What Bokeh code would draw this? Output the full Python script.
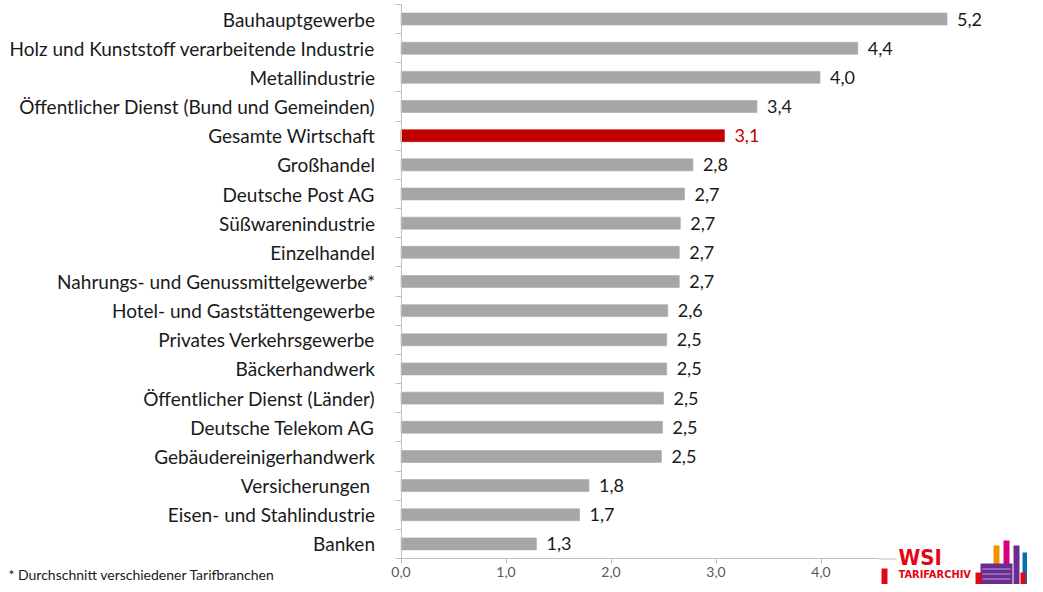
from bokeh.plotting import figure
from bokeh.models import Range1d, FixedTicker, ColumnDataSource, Label, BoxAnnotation
from bokeh.core.properties import value
from bokeh.embed import file_html
from bokeh.resources import INLINE

categories = [
    "Bauhauptgewerbe",
    "Holz und Kunststoff verarbeitende Industrie",
    "Metallindustrie",
    "Öffentlicher Dienst (Bund und Gemeinden)",
    "Gesamte Wirtschaft",
    "Großhandel",
    "Deutsche Post AG",
    "Süßwarenindustrie",
    "Einzelhandel",
    "Nahrungs- und Genussmittelgewerbe*",
    "Hotel- und Gaststättengewerbe",
    "Privates Verkehrsgewerbe",
    "Bäckerhandwerk",
    "Öffentlicher Dienst (Länder)",
    "Deutsche Telekom AG",
    "Gebäudereinigerhandwerk",
    "Versicherungen ",
    "Eisen- und Stahlindustrie",
    "Banken",
]
values = [5.20, 4.35, 3.99, 3.39, 3.08, 2.78, 2.70, 2.66, 2.65, 2.65,
          2.54, 2.53, 2.53, 2.50, 2.49, 2.48, 1.79, 1.70, 1.29]
value_labels = ["5,2", "4,4", "4,0", "3,4", "3,1", "2,8", "2,7", "2,7", "2,7", "2,7",
                "2,6", "2,5", "2,5", "2,5", "2,5", "2,5", "1,8", "1,7", "1,3"]
highlight = "Gesamte Wirtschaft"
x_ticks = [0, 1, 2, 3, 4, 5, 6]
x_tick_labels = ["0,0", "1,0", "2,0", "3,0", "4,0", "5,0", "6,0"]
footnote = "* Durchschnitt verschiedener Tarifbranchen"

FONT = "Lato"
GRAY = "#a6a6a6"
RED = "#c00000"
AXIS = "#bfbfbf"

W, H = 1027, 584
PX_X0, PX_UNIT = 400.5, 105.0      # canvas x of value 0, pixels per unit
PY_Y0, PY_UNIT = 558.0, 29.16      # canvas y of value 0, pixels per category

n = len(categories)
ypos = [n - 0.5 - i for i in range(n)]
colors = [RED if c == highlight else GRAY for c in categories]
lab_colors = [RED if c == highlight else "#1a1a1a" for c in categories]

src = ColumnDataSource(dict(y=ypos, v=values, cat=categories, lab=value_labels,
                            color=colors, lcolor=lab_colors))

x0 = -PX_X0 / PX_UNIT
y0 = -(H - PY_Y0) / PY_UNIT
p = figure(width=W, height=H, output_backend="svg", toolbar_location=None,
           x_range=Range1d(x0, x0 + W / PX_UNIT), y_range=Range1d(y0, y0 + H / PY_UNIT),
           min_border=0)
p.outline_line_color = None
p.grid.visible = False
p.background_fill_color = "white"
p.border_fill_color = "white"

p.hbar(y="y", left=0, right="v", height=0.41, color="color", line_color="color",
       line_alpha=0.6, source=src)
p.text(x="v", y="y", text="lab", x_offset=10, text_baseline="middle",
       text_font=value(FONT), text_font_size="18px", text_color="lcolor", source=src)

# y axis
ya = p.yaxis[0]
ya.fixed_location = 0
ya.bounds = (0, n)
ya.ticker = FixedTicker(ticks=ypos, minor_ticks=list(range(n + 1)))
ya.major_label_overrides = {y: c for y, c in zip(ypos, categories)}
ya.major_tick_out = 0
ya.major_tick_in = 0
ya.minor_tick_out = 6
ya.minor_tick_in = 0
ya.minor_tick_line_color = AXIS
ya.axis_line_color = AXIS
ya.major_label_standoff = 20
ya.major_label_text_font = FONT
ya.major_label_text_font_size = "19px"
ya.major_label_text_color = "#1a1a1a"

# x axis
xa = p.xaxis[0]
xa.fixed_location = 0
xa.bounds = (0, 6)
xa.ticker = FixedTicker(ticks=x_ticks, minor_ticks=[])
xa.major_label_overrides = {t: l for t, l in zip(x_ticks, x_tick_labels)}
xa.major_tick_out = 5
xa.major_tick_in = 0
xa.major_tick_line_color = AXIS
xa.axis_line_color = AXIS
xa.major_label_standoff = 3
xa.major_label_text_font = FONT
xa.major_label_text_font_size = "14px"
xa.major_label_text_color = "#595959"


def px2x(px):
    return (px - PX_X0) / PX_UNIT


def py2y(py):
    return (PY_Y0 - py) / PY_UNIT


# footnote
p.add_layout(Label(x=px2x(8), y=py2y(574), text=footnote, text_font=FONT, text_font_size="14px",
                   text_color="#1a1a1a", text_baseline="middle"))

# logo (decoration)
p.add_layout(BoxAnnotation(left=px2x(878), right=px2x(1050), top=py2y(533), bottom=py2y(600),
                           fill_color="white", fill_alpha=1, line_alpha=0))
p.add_layout(BoxAnnotation(left=px2x(881), right=px2x(887), top=py2y(568), bottom=py2y(592),
                           fill_color="#e30613", fill_alpha=1, line_alpha=0))
p.add_layout(BoxAnnotation(left=px2x(878), right=px2x(896), top=py2y(558), bottom=py2y(559),
                           fill_color=AXIS, fill_alpha=1, line_alpha=0))
p.add_layout(Label(x=px2x(898), y=py2y(557), text="WSI", text_font="DejaVu Sans Condensed",
                   text_font_style="bold", text_font_size="22px", text_color="#e30613",
                   text_baseline="middle"))
p.add_layout(Label(x=px2x(898), y=py2y(574), text="TARIFARCHIV", text_font="DejaVu Sans Condensed",
                   text_font_style="bold", text_font_size="11px", text_color="#e30613",
                   text_baseline="middle"))
for l, r, t, c in [(993, 999, 545, "#f39200"), (1003, 1009, 540, "#d6007e"),
                   (1013, 1019, 545, "#6a2c91"), (1022, 1028, 552, "#0a6eb4"),
                   (1030, 1035, 545, "#4fb9c9")]:
    p.add_layout(BoxAnnotation(left=px2x(l), right=px2x(r), top=py2y(t), bottom=py2y(592),
                               fill_color=c, fill_alpha=1, line_alpha=0))
p.add_layout(BoxAnnotation(left=px2x(980), right=px2x(1012), top=py2y(563), bottom=py2y(592),
                           fill_color="#6a2c91", fill_alpha=1, line_alpha=0))
for yy in (568, 573, 578):
    p.add_layout(BoxAnnotation(left=px2x(982), right=px2x(1010), top=py2y(yy), bottom=py2y(yy + 1),
                               fill_color="#b9a3d1", fill_alpha=1, line_alpha=0))
p.add_layout(BoxAnnotation(left=px2x(975), right=px2x(981), top=py2y(572), bottom=py2y(592),
                           fill_color="#e30613", fill_alpha=1, line_alpha=0))
p.add_layout(BoxAnnotation(left=px2x(1020), right=px2x(1025), top=py2y(572), bottom=py2y(592),
                           fill_color="#e30613", fill_alpha=1, line_alpha=0))

open("out.html", "w").write(file_html(p, INLINE))
